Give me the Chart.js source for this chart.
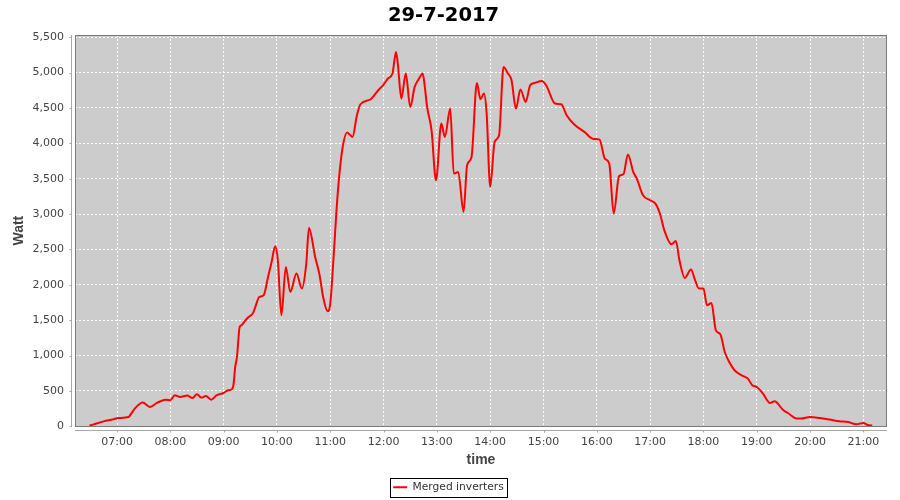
<!DOCTYPE html>
<html>
<head>
<meta charset="utf-8">
<script src="https://cdn.jsdelivr.net/npm/chart.js@4.4.1/dist/chart.umd.min.js"></script>
<style>
  html, body { margin: 0; padding: 0; background: #ffffff; }
  #c { display: block; }
</style>
</head>
<body>
<canvas id="c" width="900" height="500"></canvas>
<script>
// ---- data ----
const chartTitle = '29-7-2017';
const seriesName = 'Merged inverters';
const times = ['06:29','06:33','06:45','06:56','07:01','07:13','07:16','07:20','07:29','07:37','07:45','07:55','08:00','08:05','08:11','08:19','08:25','08:30','08:35','08:40','08:46','08:52','09:00','09:05','09:09','09:11','09:13','09:15','09:18','09:20','09:24','09:28','09:33','09:36','09:40','09:45','09:50','09:54','09:58','10:01','10:05','10:10','10:15','10:22','10:28','10:33','10:36','10:43','10:48','10:52','10:57','11:00','11:04','11:07','11:10','11:14','11:19','11:25','11:30','11:34','11:45','11:54','12:00','12:05','12:10','12:14','12:16','12:20','12:25','12:30','12:35','12:40','12:44','12:46','12:49','12:54','12:59','13:05','13:09','13:15','13:19','13:24','13:30','13:34','13:39','13:45','13:49','13:53','13:56','14:00','14:05','14:10','14:15','14:20','14:24','14:29','14:34','14:40','14:45','14:50','14:58','15:03','15:13','15:20','15:26','15:35','15:46','15:56','16:03','16:09','16:14','16:19','16:25','16:30','16:35','16:41','16:45','16:52','17:00','17:06','17:11','17:16','17:24','17:29','17:33','17:39','17:46','17:50','17:55','18:00','18:04','18:09','18:14','18:19','18:24','18:30','18:35','18:43','18:50','18:55','19:00','19:07','19:15','19:20','19:30','19:35','19:45','19:50','20:00','20:11','20:22','20:33','20:43','20:52','21:00','21:05','21:10'];
const watts = [10,24,70,99,117,131,180,250,335,273,330,377,368,438,415,434,400,452,406,429,377,438,471,509,520,580,839,980,1404,1428,1490,1546,1600,1700,1828,1852,2112,2323,2545,2347,1570,2253,1899,2159,1947,2300,2804,2394,2135,1828,1626,1735,2442,3050,3525,3950,4153,4091,4398,4553,4620,4751,4832,4917,4987,5293,5129,4634,4987,4515,4798,4917,4987,4846,4515,4185,3478,4280,4091,4492,3573,3596,3030,3690,3808,4854,4624,4705,4422,3384,4020,4115,5080,4987,4893,4492,4761,4586,4822,4854,4883,4822,4563,4553,4398,4263,4162,4063,4056,3785,3714,3008,3535,3563,3842,3596,3502,3266,3196,3149,3008,2771,2573,2620,2347,2097,2215,2088,1947,1947,1711,1744,1357,1301,1051,887,792,721,674,580,556,462,330,354,226,188,109,109,132,117,95,71,61,28,47,18,10];
const hourTicks = ['07:00','08:00','09:00','10:00','11:00','12:00','13:00','14:00','15:00','16:00','17:00','18:00','19:00','20:00','21:00'];
const wattTicks = [0,500,1000,1500,2000,2500,3000,3500,4000,4500,5000,5500];
const axisRangeTime = ['06:12.7','21:26.6'];
const axisRangeWatt = [0, 5532];

// ---- helpers ----
function toMin(s) { const [h, m] = s.split(':'); return Number(h) * 60 + Number(m); }
function fmtMin(v) {
  const h = Math.floor(v / 60), m = Math.round(v - h * 60);
  return String(h).padStart(2, '0') + ':' + String(m).padStart(2, '0');
}
const points = times.map((t, i) => ({ x: toMin(t), y: watts[i] }));

const tickFont = { family: 'DejaVu Sans', size: 11 };
const axisTitleFont = { family: 'Liberation Sans', size: 14, weight: 'bold' };
const LEGEND_PAD = 10;

const decor = {
  id: 'decor',
  afterUpdate(chart) {
    const lg = chart.legend;
    if (lg) { lg.left += 5; lg.right += 5; }
  },
  beforeDraw(chart) {
    const { ctx, chartArea: a } = chart;
    ctx.save();
    ctx.fillStyle = '#ffffff';
    ctx.fillRect(0, 0, chart.width, chart.height);
    ctx.fillStyle = '#cccccc';
    ctx.fillRect(a.left, a.top, a.right - a.left, a.bottom - a.top);
    ctx.restore();
  },
  afterDraw(chart) {
    const { ctx, chartArea: a, scales } = chart;
    ctx.save();
    // plot outline
    ctx.strokeStyle = '#7a7a7a';
    ctx.lineWidth = 1;
    ctx.strokeRect(Math.round(a.left) + 0.5, Math.round(a.top) + 0.5,
      Math.round(a.right - a.left) - 1, Math.round(a.bottom - a.top));
    // offset axis lines + tick marks
    ctx.strokeStyle = '#a8a8a8';
    const yx = Math.round(a.left) - 4 + 0.5;
    ctx.beginPath();
    ctx.moveTo(yx, a.top); ctx.lineTo(yx, a.bottom + 1);
    scales.y.ticks.forEach(t => {
      const py = Math.round(scales.y.getPixelForValue(t.value)) + 0.5;
      ctx.moveTo(yx - 2, py); ctx.lineTo(yx, py);
    });
    const xy = Math.round(a.bottom) + 4 + 0.5;
    ctx.moveTo(a.left, xy); ctx.lineTo(a.right, xy);
    scales.x.ticks.forEach(t => {
      const px = Math.round(scales.x.getPixelForValue(t.value)) + 0.5;
      ctx.moveTo(px, xy); ctx.lineTo(px, xy + 2);
    });
    ctx.stroke();
    // legend frame
    const lg = chart.legend;
    const hb = lg && lg.legendHitBoxes && lg.legendHitBoxes[0];
    if (hb && isFinite(hb.width)) {
      const x0 = (lg.left + lg.right - hb.width) / 2;
      const y0 = lg.top + LEGEND_PAD;
      ctx.strokeStyle = '#000000';
      ctx.strokeRect(Math.round(x0 - 3) + 0.5, Math.round(y0 - 4) + 0.5,
        Math.round(hb.width + 6), Math.round(hb.height + 8));
    }
    ctx.restore();
  }
};

new Chart(document.getElementById('c'), {
  type: 'line',
  data: {
    datasets: [{
      label: seriesName,
      data: points,
      borderColor: '#ff0000',
      backgroundColor: '#ff0000',
      borderWidth: 2,
      pointRadius: 0,
      cubicInterpolationMode: 'monotone',
      fill: false
    }]
  },
  options: {
    responsive: false,
    animation: false,
    events: [],
    layout: { padding: { left: 0, right: 13, top: 0, bottom: -2.5 } },
    plugins: {
      title: {
        display: true,
        text: chartTitle,
        color: '#000000',
        font: { family: 'DejaVu Sans', size: 19.5, weight: 'bold' },
        padding: { top: 4.3, bottom: 7.3 }
      },
      legend: {
        position: 'bottom',
        labels: {
          font: { family: 'DejaVu Sans', size: 10.7 },
          color: '#333333',
          boxWidth: 14,
          boxHeight: 2,
          padding: LEGEND_PAD,
          generateLabels(chart) {
            const items = Chart.defaults.plugins.legend.labels.generateLabels(chart);
            items.forEach(it => { it.lineWidth = 0; it.fillStyle = '#ff0000'; });
            return items;
          }
        }
      },
      tooltip: { enabled: false }
    },
    scales: {
      x: {
        type: 'linear',
        min: toMin(axisRangeTime[0]),
        max: toMin(axisRangeTime[1]),
        afterBuildTicks(s) { s.ticks = hourTicks.map(h => ({ value: toMin(h) })); },
        afterFit(s) { s.height = 45.5; },
        grid: { color: 'rgba(255,255,255,0.95)', lineWidth: 1, drawTicks: false },
        border: { display: false, dash: [2, 2] },
        ticks: { font: tickFont, color: '#444444', padding: 9, maxRotation: 0, autoSkip: false,
          callback: v => fmtMin(v) },
        title: { display: true, text: 'time', color: '#444444', font: axisTitleFont,
          padding: { top: 0, bottom: 3 } }
      },
      y: {
        type: 'linear',
        min: axisRangeWatt[0],
        max: axisRangeWatt[1],
        afterBuildTicks(s) { s.ticks = wattTicks.map(v => ({ value: v })); },
        afterFit(s) { s.width = 75; },
        grid: { color: 'rgba(255,255,255,0.95)', lineWidth: 1, drawTicks: false },
        border: { display: false, dash: [2, 2] },
        ticks: { font: tickFont, color: '#444444', padding: 11,
          callback: v => Number(v).toLocaleString('en-US') },
        title: { display: true, text: 'Watt', color: '#444444', font: axisTitleFont,
          padding: { top: 11, bottom: 0 } }
      }
    }
  },
  plugins: [decor]
});
</script>
</body>
</html>
